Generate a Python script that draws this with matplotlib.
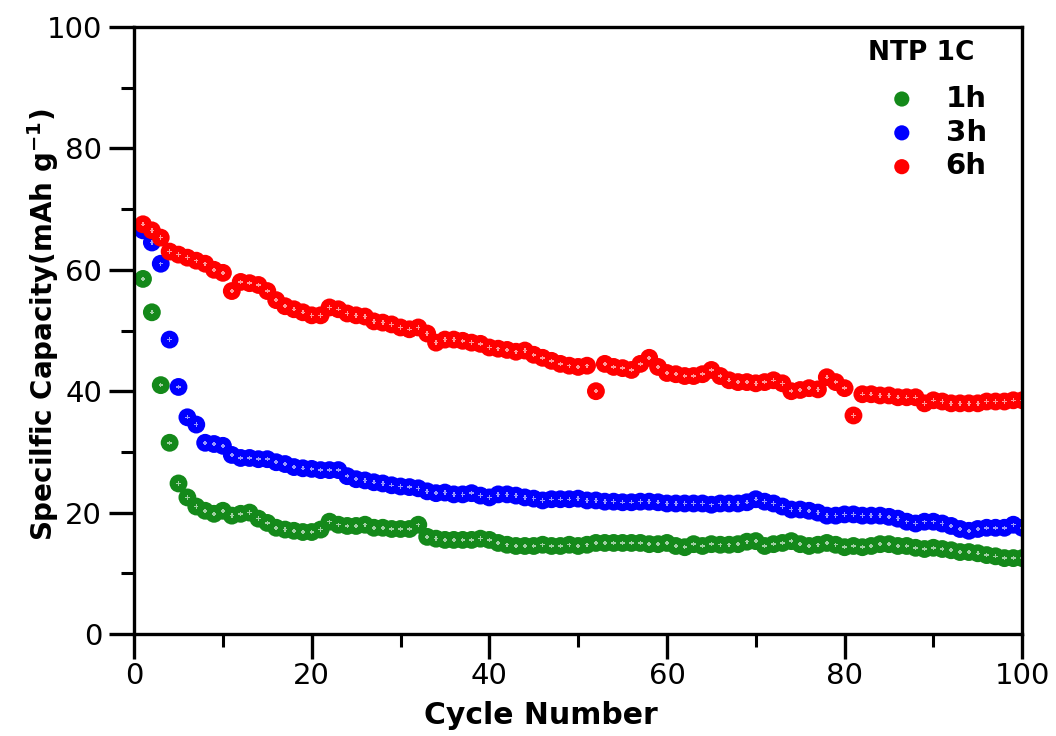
import matplotlib.pyplot as plt
import numpy as np

# Cycle numbers and specific capacity (mAh/g)
cycles = np.arange(1, 101)

cap_1h = [58.5, 53.0, 41.0, 31.5, 24.8, 22.5, 21.0, 20.3, 19.8, 20.3,
          19.5, 19.8, 20.0, 19.0, 18.3, 17.5, 17.2, 17.0, 16.8, 16.8,
          17.2, 18.5, 18.0, 17.8, 17.8, 18.0, 17.5, 17.5, 17.3, 17.3,
          17.3, 18.0, 16.0, 15.7, 15.5, 15.5, 15.5, 15.5, 15.7, 15.5,
          15.0, 14.7, 14.5, 14.5, 14.5, 14.7, 14.5, 14.5, 14.7, 14.5,
          14.7, 15.0, 15.0, 15.0, 15.0, 15.0, 15.0, 14.8, 14.8, 15.0,
          14.5, 14.3, 14.8, 14.5, 14.8, 14.7, 14.7, 14.8, 15.2, 15.3,
          14.5, 14.8, 15.0, 15.3, 14.8, 14.5, 14.7, 15.0, 14.7, 14.3,
          14.5, 14.3, 14.5, 14.8, 14.8, 14.5, 14.5, 14.2, 14.0, 14.2,
          14.0, 13.8, 13.5, 13.5, 13.3, 13.0, 12.8, 12.5, 12.5, 12.5]

cap_3h = [66.5, 64.5, 61.0, 48.5, 40.7, 35.7, 34.5, 31.5, 31.3, 31.0,
          29.5, 29.0, 29.0, 28.8, 28.8, 28.3, 28.0, 27.5, 27.3, 27.2,
          27.0, 27.0, 27.0, 26.0, 25.5, 25.3, 25.0, 24.8, 24.5, 24.3,
          24.2, 24.0, 23.5, 23.2, 23.3, 23.0, 23.0, 23.2, 22.8, 22.5,
          23.0, 23.0, 22.8, 22.5, 22.3, 22.0, 22.2, 22.2, 22.2, 22.3,
          22.0, 22.0, 21.8, 21.8, 21.7, 21.7, 21.8, 21.8, 21.7, 21.5,
          21.5, 21.5, 21.5, 21.5, 21.3, 21.5, 21.5, 21.5, 21.7, 22.2,
          21.8, 21.5, 21.0, 20.5, 20.5, 20.3, 20.0, 19.5, 19.5, 19.7,
          19.7, 19.5, 19.5, 19.5, 19.3, 19.0, 18.5, 18.2, 18.5, 18.5,
          18.2, 17.8, 17.3, 17.0, 17.3, 17.5, 17.5, 17.5, 18.0, 17.5]

cap_6h = [67.5, 66.5, 65.3, 63.0, 62.5, 62.0, 61.5, 61.0, 60.0, 59.5,
          56.5, 58.0, 57.8, 57.5, 56.5, 55.0, 54.0, 53.5, 53.0, 52.5,
          52.5, 53.8, 53.5, 52.8, 52.5, 52.3, 51.5, 51.3, 51.0, 50.5,
          50.2, 50.5, 49.5, 48.0, 48.5, 48.5, 48.3, 48.0, 47.8, 47.2,
          47.0, 46.8, 46.5, 46.7, 46.0, 45.5, 45.0, 44.5, 44.2, 44.0,
          44.2, 40.0, 44.5, 44.0, 43.8, 43.5, 44.5, 45.5, 44.0, 43.0,
          42.8, 42.5, 42.5, 42.8, 43.5, 42.5, 41.8, 41.5, 41.5, 41.3,
          41.5, 41.8, 41.3, 40.0, 40.2, 40.5, 40.3, 42.3, 41.5, 40.5,
          36.0, 39.5, 39.5, 39.3, 39.3, 39.0, 39.0, 39.0, 38.0, 38.5,
          38.3, 38.0, 38.0, 38.0, 38.0, 38.3, 38.3, 38.3, 38.5, 38.5]

labels = ['1h', '3h', '6h']
colors = ['#14891a', '#0000ff', '#ff0000']

plt.rcParams['font.family'] = ['DejaVu Sans']

fig = plt.figure(figsize=(10.56, 7.36), dpi=100)
ax = fig.add_axes([0.127, 0.1386, 0.841, 0.8247])

for y, lab, c in zip([cap_1h, cap_3h, cap_6h], labels, colors):
    ax.scatter(cycles, y, s=165, color=c, edgecolors='none', label=lab)
    # small white glint to look like the shaded spheres
    ax.scatter(cycles, y, s=10, color='white', alpha=0.6, edgecolors='none',
               marker='P')

ax.set_xlim(0, 100)
ax.set_ylim(0, 100)
ax.set_xticks(np.arange(0, 101, 20))
ax.set_yticks(np.arange(0, 101, 20))
ax.set_xticks(np.arange(0, 101, 10), minor=True)
ax.set_yticks(np.arange(0, 101, 10), minor=True)
ax.tick_params(which='major', direction='out', length=18, width=2.4,
               labelsize=21, pad=5)
ax.tick_params(axis='x', which='major', pad=2)
ax.tick_params(which='minor', direction='out', length=9.5, width=2.2)
for sp in ax.spines.values():
    sp.set_linewidth(2.4)

ax.set_xlabel('Cycle Number', fontsize=21.5, fontweight='bold')
ax.set_ylabel('Specilfic Capacity(mAh g$^{\\mathbf{-1}}$)', fontsize=20,
              fontweight='bold')
ax.xaxis.set_label_coords(0.458, -0.11)
ax.yaxis.set_label_coords(-0.082, 0.51)

# legend title as separate text, entries below it
ax.text(0.886, 0.957, 'NTP 1C', transform=ax.transAxes, ha='center',
        va='center', fontsize=19, fontweight='bold')
ax.legend(loc='upper right', frameon=False,
          bbox_to_anchor=(0.96, 0.905), borderaxespad=0, borderpad=0,
          markerscale=0.85, handletextpad=0.9, labelspacing=0.2,
          handlelength=1.2, prop={'weight': 'bold', 'size': 21})

fig.savefig('out.png', dpi=100)
plt.close()
